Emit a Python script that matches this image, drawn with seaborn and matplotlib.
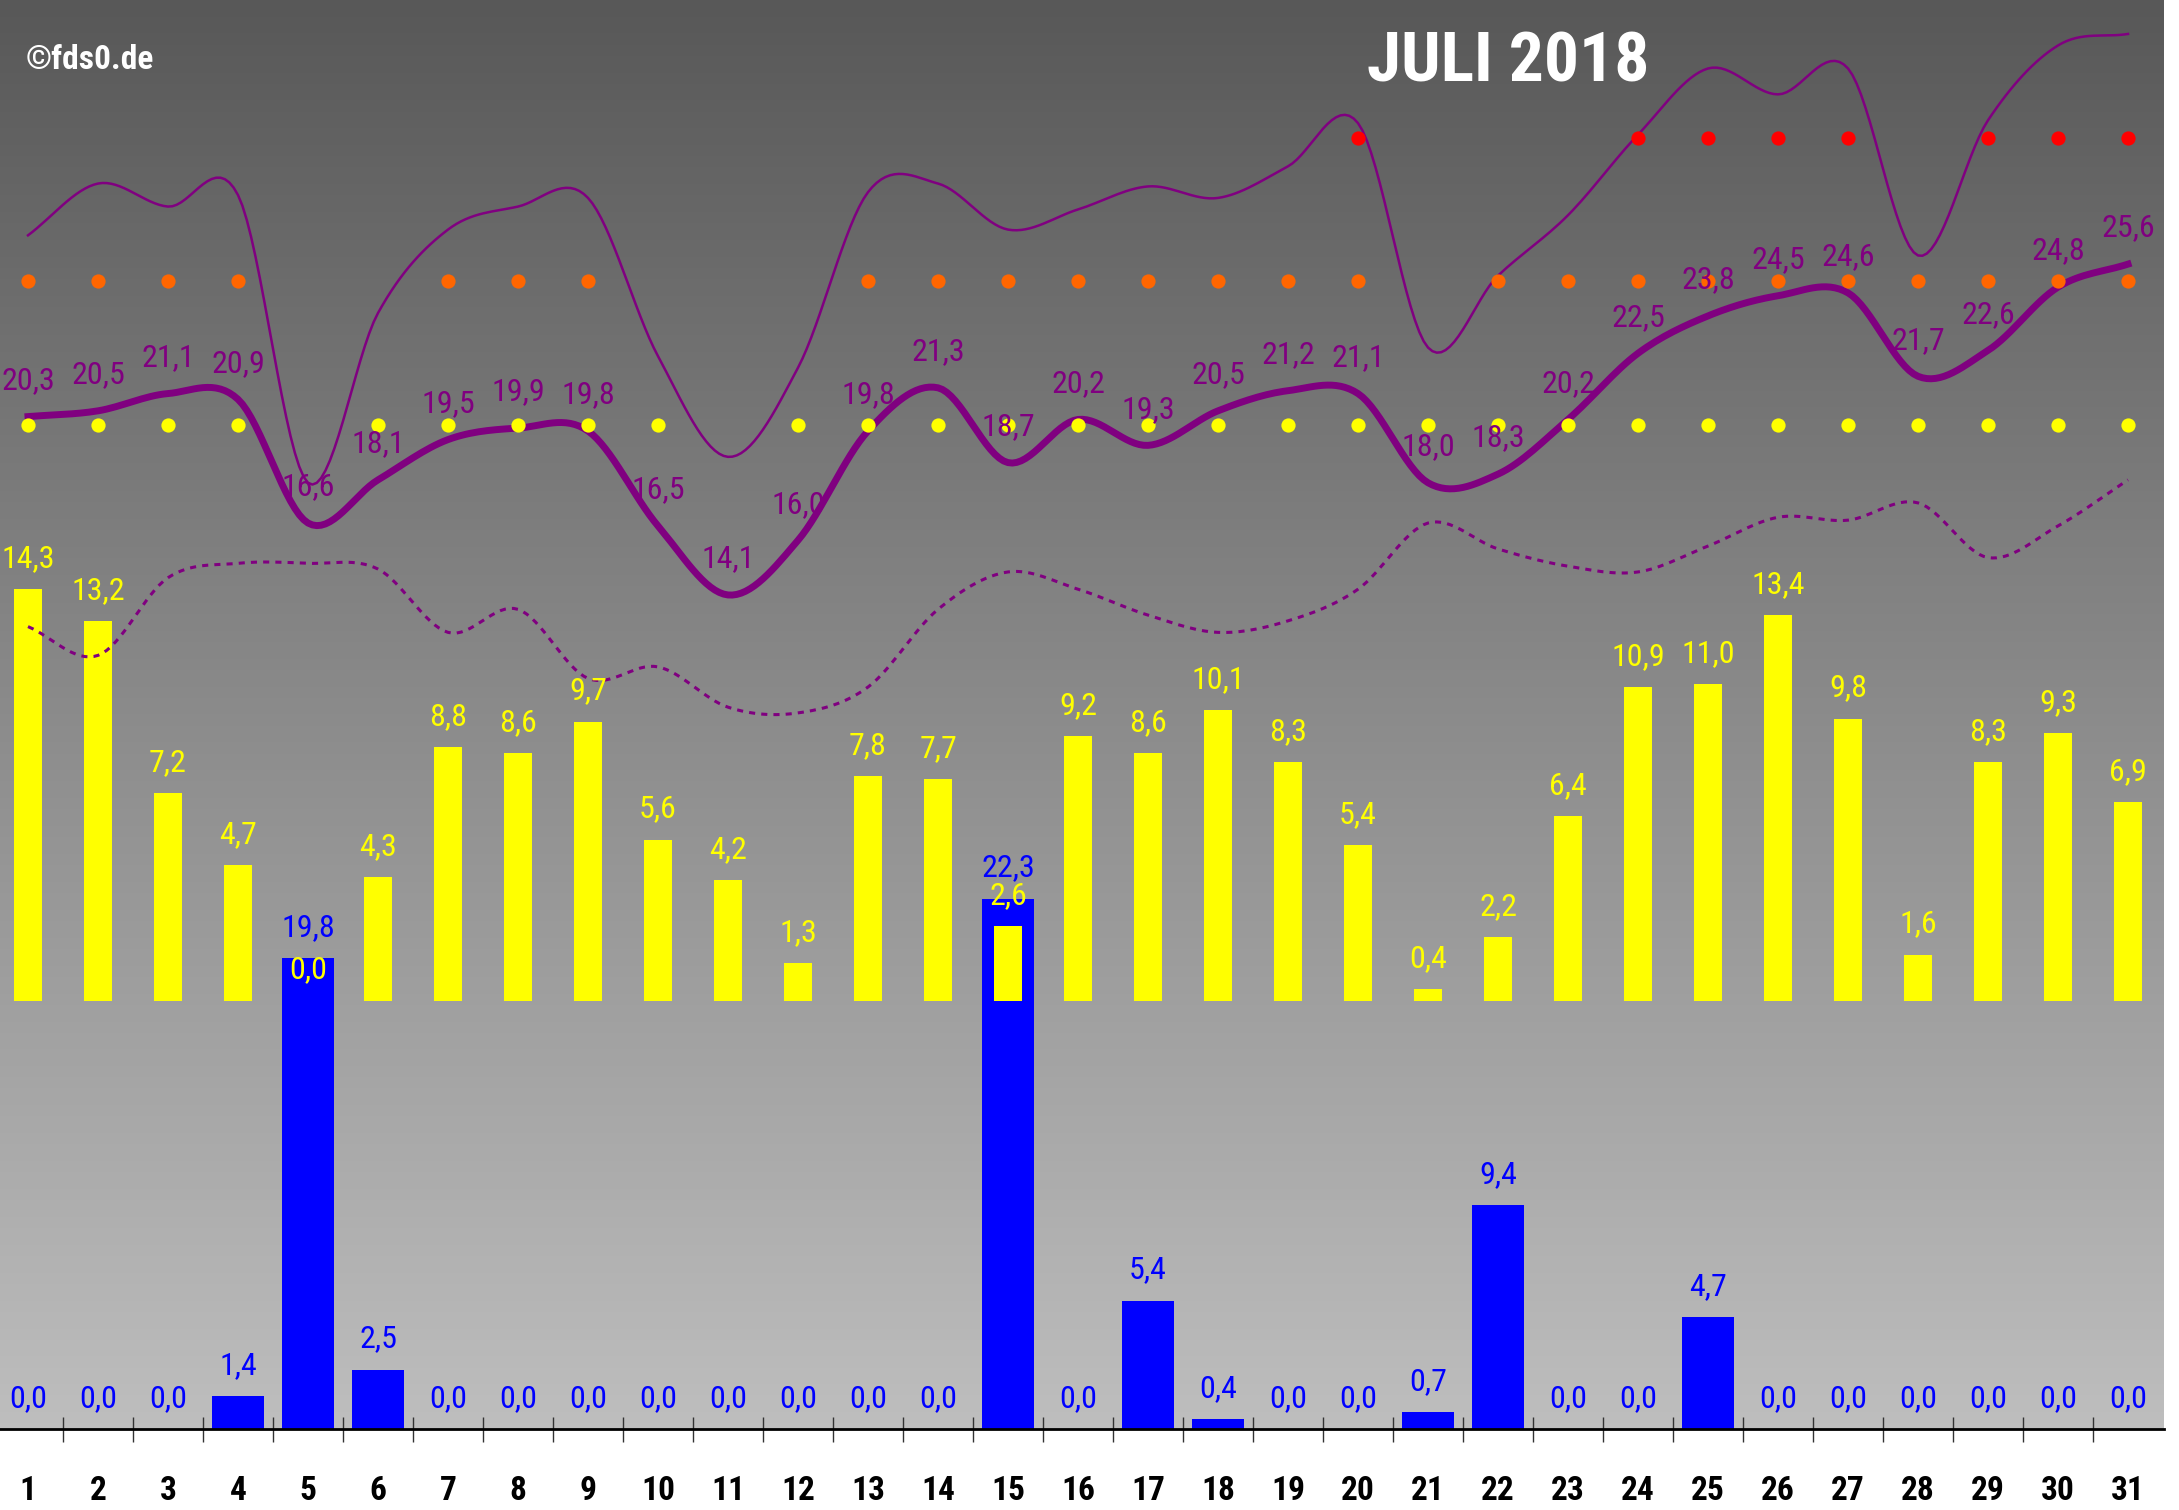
import numpy as np
import matplotlib
matplotlib.use("Agg")
import matplotlib.pyplot as plt
import seaborn as sns
from matplotlib import font_manager
from matplotlib.colors import LinearSegmentedColormap

# daily values, July 2018
days = list(range(1, 32))
sun_hours = [14.3, 13.2, 7.2, 4.7, 0.0, 4.3, 8.8, 8.6, 9.7, 5.6, 4.2, 1.3, 7.8, 7.7, 2.6, 9.2,
             8.6, 10.1, 8.3, 5.4, 0.4, 2.2, 6.4, 10.9, 11.0, 13.4, 9.8, 1.6, 8.3, 9.3, 6.9]
rain_mm = [0.0, 0.0, 0.0, 1.4, 19.8, 2.5, 0.0, 0.0, 0.0, 0.0, 0.0, 0.0, 0.0, 0.0, 22.3, 0.0,
           5.4, 0.4, 0.0, 0.0, 0.7, 9.4, 0.0, 0.0, 4.7, 0.0, 0.0, 0.0, 0.0, 0.0, 0.0]
t_mean = [20.3, 20.5, 21.1, 20.9, 16.6, 18.1, 19.5, 19.9, 19.8, 16.5, 14.1, 16.0, 19.8, 21.3, 18.7, 20.2,
          19.3, 20.5, 21.2, 21.1, 18.0, 18.3, 20.2, 22.5, 23.8, 24.5, 24.6, 21.7, 22.6, 24.8, 25.6]
t_max = [26.6, 28.4, 27.6, 28.0, 18.0, 23.9, 26.8, 27.6, 27.9, 22.4, 18.9, 22.0, 28.1, 28.4, 26.8, 27.5,
         28.3, 27.9, 29.0, 30.5, 22.7, 25.2, 27.3, 30.1, 32.4, 31.5, 32.4, 25.9, 30.6, 33.2, 33.6]
t_min = [13.0, 12.0, 14.7, 15.2, 15.2, 15.0, 12.8, 13.6, 11.2, 11.6, 10.2, 10.0, 10.9, 13.6, 14.9, 14.3,
         13.4, 12.8, 13.2, 14.3, 16.6, 15.7, 15.1, 14.9, 15.8, 16.8, 16.7, 17.3, 15.4, 16.5, 18.1]
thresholds = [20, 25, 30]
threshold_colors = ["#FFFF00", "#FF6600", "#FF0000"]

avail = {f.name for f in font_manager.fontManager.ttflist}
narrow = next((f for f in ["Liberation Sans Narrow", "Roboto Condensed"] if f in avail), "DejaVu Sans")
plt.rcParams["font.family"] = [narrow, "DejaVu Sans"]
plt.rcParams["font.stretch"] = "condensed"

purple = "#800080"


def smooth(x, y, n=16):
    # catmull-rom, roughly what the spreadsheet "smoothed line" does
    x = np.asarray(x, float)
    y = np.asarray(y, float)
    yp = np.concatenate([[2 * y[0] - y[1]], y, [2 * y[-1] - y[-2]]])
    t = np.linspace(0, 1, n, endpoint=False)[:, None]
    p0, p1, p2, p3 = yp[:-3], yp[1:-2], yp[2:-1], yp[3:]
    ys = 0.5 * (2 * p1 + (p2 - p0) * t + (2 * p0 - 5 * p1 + 4 * p2 - p3) * t ** 2
                + (3 * p1 - p0 - 3 * p2 + p3) * t ** 3)
    xs = x[:-1] + t * np.diff(x)
    return np.append(xs.flatten(order="F"), x[-1]), np.append(ys.flatten(order="F"), y[-1])


def fmt(v):
    return f"{v:.1f}".replace(".", ",")


fig = plt.figure(figsize=(21.79, 15.10), dpi=100)
ax = fig.add_axes([0, 81 / 1510, 2164 / 2179, 1429 / 1510])
ax2 = ax.twinx()

xlim = (0.6, 31.514)
rain_top = 60.07
temp_lim = (-14.89, 34.78)

bg = LinearSegmentedColormap.from_list("bg", ["#585858", "#BEBEBE"])
ax.imshow(np.linspace(0, 1, 256)[:, None], extent=[xlim[0], xlim[1], 0, rain_top],
          origin="upper", aspect="auto", cmap=bg, zorder=0)

# rain bars, own scale
sns.barplot(x=days, y=rain_mm, native_scale=True, width=0.73, color="#0000FF",
            saturation=1, errorbar=None, ax=ax, zorder=2)
for d, v in zip(days, rain_mm):
    ax.annotate(fmt(v), (d, v), xytext=(0, 22), textcoords="offset points",
                ha="center", va="center", color="#0000FF", fontsize=23)

# sunshine + temperatures share one scale
sns.barplot(x=days, y=sun_hours, native_scale=True, width=0.41, color="#FFFF00",
            saturation=1, errorbar=None, ax=ax2, zorder=2)
for d, v in zip(days, sun_hours):
    ax2.annotate(fmt(v), (d, v), xytext=(0, 22), textcoords="offset points",
                 ha="center", va="center", color="#FFFF00", fontsize=23, zorder=6)

xs, ys = smooth(days, t_max)
sns.lineplot(x=xs, y=ys, ax=ax2, color=purple, linewidth=1.8, sort=False, estimator=None, zorder=3)
xs, ys = smooth(days, t_min)
sns.lineplot(x=xs, y=ys, ax=ax2, color=purple, linewidth=2.2, linestyle=(0, (2.0, 2.0)),
             sort=False, estimator=None, zorder=3)
xs, ys = smooth(days, t_mean)
sns.lineplot(x=xs, y=ys, ax=ax2, color=purple, linewidth=5, sort=False, estimator=None, zorder=4)

tmax = np.array(t_max)
for lim, col in zip(thresholds, threshold_colors):
    sel = np.array(days)[tmax >= lim]
    ax2.scatter(sel, np.full(len(sel), lim), s=105, color=col, linewidths=0, zorder=5)

for d, v in zip(days, t_mean):
    ax2.annotate(fmt(v), (d, v), xytext=(0, 26), textcoords="offset points",
                 ha="center", va="center", color=purple, fontsize=23, zorder=6)

ax.set_xlim(*xlim)
ax.set_ylim(0, rain_top)
ax2.set_ylim(*temp_lim)
for a in (ax, ax2):
    a.set_yticks([])
    a.set_xlabel("")
    a.set_ylabel("")
    for s in ("top", "left", "right"):
        a.spines[s].set_visible(False)
ax2.spines["bottom"].set_visible(False)
ax.spines["bottom"].set_linewidth(2)
ax.spines["bottom"].set_color("black")

ax.set_xticks(days)
ax.set_xticklabels([str(d) for d in days], fontsize=24, fontweight="bold")
ax.set_xticks(np.arange(1.5, 31, 1), minor=True)
ax.tick_params(axis="x", which="major", length=0, pad=33)
ax.tick_params(axis="x", which="minor", length=18, width=1, direction="inout", color="#333333")

fig.text(0.692, 0.958, "JULI 2018", color="white", fontsize=50, fontweight="bold",
         ha="center", va="center")
fig.text(0.0117, 0.960, "©fds0.de", color="white", fontsize=24, fontweight="bold",
         ha="left", va="center")

fig.savefig("out.png", dpi=100)
